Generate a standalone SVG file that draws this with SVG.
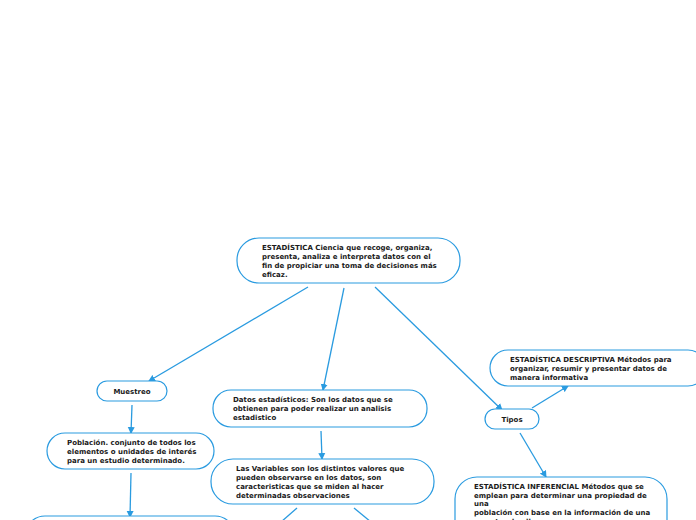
<svg xmlns="http://www.w3.org/2000/svg" width="696" height="520" viewBox="0 0 696 520">
<style>
.n{fill:#fff;stroke:#2a9be0;stroke-width:1.2}
.t{font-family:"DejaVu Sans",Verdana,sans-serif;font-weight:bold;font-size:7px;fill:#1a1a1a}
.c{fill:none;stroke:#2a9be0;stroke-width:1.3;marker-end:url(#a)}
</style>
<defs>
<marker id="a" markerWidth="8" markerHeight="8" refX="6" refY="4" orient="auto" markerUnits="userSpaceOnUse">
<path d="M0,0.5 L7,4 L0,7.5 Z" fill="#2a9be0"/>
</marker>
</defs>
<rect width="696" height="520" fill="#fff"/>
<g id="connectors">
<line class="c" x1="308" y1="287" x2="149" y2="381"/>
<line class="c" x1="344" y1="288" x2="323" y2="390"/>
<line class="c" x1="375" y1="287" x2="502" y2="410"/>
<line class="c" x1="132" y1="405" x2="131" y2="433"/>
<line class="c" x1="131" y1="473" x2="130" y2="517"/>
<line class="c" x1="321" y1="431" x2="322" y2="459"/>
<line class="c" x1="532" y1="408" x2="568" y2="386"/>
<line class="c" x1="520" y1="433" x2="546" y2="477"/>
<line class="c" style="marker-end:none" x1="297" y1="508" x2="281" y2="522"/>
<line class="c" style="marker-end:none" x1="354" y1="508" x2="371" y2="522"/>
</g>
<g id="root">
<rect class="n" x="237" y="238" width="223" height="45" rx="22"/>
<text class="t" x="262" y="250">ESTADÍSTICA Ciencia que recoge, organiza,</text>
<text class="t" x="262" y="259">presenta, analiza e interpreta datos con el</text>
<text class="t" x="262" y="268">fin de propiciar una toma de decisiones más</text>
<text class="t" x="262" y="277">eficaz.</text>
</g>
<g id="muestreo">
<rect class="n" x="97" y="381" width="70" height="20" rx="10"/>
<text class="t" x="132" y="394" text-anchor="middle">Muestreo</text>
</g>
<g id="poblacion">
<rect class="n" x="47" y="433" width="167" height="36" rx="18"/>
<text class="t" x="67" y="445">Población. conjunto de todos los</text>
<text class="t" x="67" y="454">elementos o unidades de interés</text>
<text class="t" x="67" y="463">para un estudio determinado.</text>
</g>
<g id="muestra">
<rect class="n" x="25" y="516" width="210" height="40" rx="20"/>
</g>
<g id="datos">
<rect class="n" x="213" y="390" width="214" height="37" rx="18"/>
<text class="t" x="233" y="402">Datos estadísticos: Son los datos que se</text>
<text class="t" x="233" y="411">obtienen para poder realizar un analisis</text>
<text class="t" x="233" y="420">estadistico</text>
</g>
<g id="variables">
<rect class="n" x="211" y="459" width="223" height="45" rx="22"/>
<text class="t" x="236" y="471">Las Variables son los distintos valores que</text>
<text class="t" x="236" y="480">pueden observarse en los datos, son</text>
<text class="t" x="236" y="489">caracteristicas que se miden al hacer</text>
<text class="t" x="236" y="498">determinadas observaciones</text>
</g>
<g id="tipos">
<rect class="n" x="485" y="409" width="54" height="20" rx="10"/>
<text class="t" x="512" y="422" text-anchor="middle">Tipos</text>
</g>
<g id="descriptiva">
<rect class="n" x="490" y="350" width="216" height="36" rx="18"/>
<text class="t" x="510" y="362">ESTADÍSTICA DESCRIPTIVA Métodos para</text>
<text class="t" x="510" y="371">organizar, resumir y presentar datos de</text>
<text class="t" x="510" y="380">manera informativa</text>
</g>
<g id="inferencial">
<rect class="n" x="455" y="477" width="212" height="70" rx="22"/>
<text class="t" x="474" y="489">ESTADÍSTICA INFERENCIAL Métodos que se</text>
<text class="t" x="474" y="498">emplean para determinar una propiedad de</text>
<text class="t" x="474" y="506">una</text>
<text class="t" x="474" y="515">población con base en la información de una</text>
<text class="t" x="474" y="524">muestra de ella.</text>
</g>
</svg>
